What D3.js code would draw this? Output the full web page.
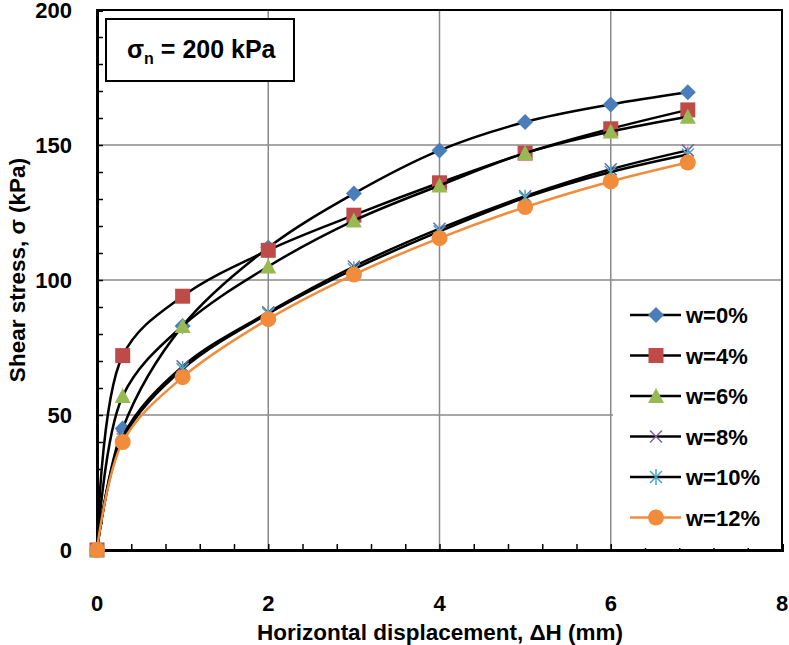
<!DOCTYPE html>
<html>
<head>
<meta charset="utf-8">
<script src="https://cdn.jsdelivr.net/npm/d3@7"></script>
<style>
  body { margin: 0; background: #fff; }
  text { font-family: "Liberation Sans", Arial, sans-serif; font-weight: bold; fill: #000; }
</style>
</head>
<body>
<svg id="chart" width="789" height="645"></svg>
<script>
// horizontal displacement (mm)
var disp = [0, 0.3, 1, 2, 3, 4, 5, 6, 6.9]

// shear stress (kPa) per water content
var w0  = [0, 45, 83, 112, 132, 148, 158.5, 165, 169.5]
var w4  = [0, 72, 94, 111, 124, 136, 147, 156, 163]
var w6  = [0, 57, 83, 105, 122, 135, 147, 155, 160.5]
var w8  = [0, 42, 68, 88, 105, 119, 131, 141, 148]
var w10 = [0, 41, 67, 87.5, 104, 118, 130.5, 140, 146.5]
var w12 = [0, 40, 64, 85.5, 102, 115.5, 127, 136.5, 143.5]

var names = ['w=0%', 'w=4%', 'w=6%', 'w=8%', 'w=10%', 'w=12%']
var xTicks = [0, 2, 4, 6, 8]
var yTicks = [0, 50, 100, 150, 200]

var series = [
  { name: names[0], values: w0,  marker: 'diamond',  color: '#4a7ebb', line: '#000' },
  { name: names[1], values: w4,  marker: 'square',   color: '#be4b48', line: '#000' },
  { name: names[2], values: w6,  marker: 'triangle', color: '#98b954', line: '#000' },
  { name: names[3], values: w8,  marker: 'x',        color: '#7d60a0', line: '#000' },
  { name: names[4], values: w10, marker: 'star',     color: '#46aac5', line: '#000' },
  { name: names[5], values: w12, marker: 'circle',   color: '#f08c3c', line: '#f08c3c' }
]

var plotLeft = 97, plotRight = 782, plotTop = 10, plotBottom = 550

var svg = d3.select('#chart')

var x = d3.scaleLinear().domain([0, 8]).range([plotLeft, plotRight])
var y = d3.scaleLinear().domain([0, 200]).range([plotBottom, plotTop])

// grid
var grid = svg.append('g')
grid.selectAll('.gx')
  .data(xTicks.slice(1, -1))
  .enter().append('line')
  .attr('x1', function(d) { return x(d) })
  .attr('x2', function(d) { return x(d) })
  .attr('y1', plotTop).attr('y2', plotBottom)
  .attr('stroke', '#8a8a8a').attr('stroke-width', 1.5)
grid.selectAll('.gy')
  .data(yTicks.slice(1, -1))
  .enter().append('line')
  .attr('y1', function(d) { return y(d) })
  .attr('y2', function(d) { return y(d) })
  .attr('x1', plotLeft).attr('x2', plotRight)
  .attr('stroke', '#8a8a8a').attr('stroke-width', 1.5)

// frame
svg.append('rect')
  .attr('x', plotLeft).attr('y', plotTop)
  .attr('width', plotRight - plotLeft).attr('height', plotBottom - plotTop)
  .attr('fill', 'none').attr('stroke', '#000').attr('stroke-width', 2)

// axes with inward minor ticks
var xAxis = svg.append('g')
  .attr('transform', 'translate(0,' + plotBottom + ')')
  .call(d3.axisTop(x).tickValues(d3.range(0, 8.01, 0.4)).tickSize(6).tickFormat(''))
xAxis.select('.domain').attr('stroke-width', 3)
xAxis.selectAll('.tick line').attr('stroke-width', 1.5)

var yAxis = svg.append('g')
  .attr('transform', 'translate(' + plotLeft + ',0)')
  .call(d3.axisRight(y).tickValues(d3.range(0, 201, 10)).tickSize(6).tickFormat(''))
yAxis.select('.domain').attr('stroke-width', 3)
yAxis.selectAll('.tick line').attr('stroke-width', 1.5)

// tick labels
svg.append('g').selectAll('text')
  .data(xTicks)
  .enter().append('text')
  .attr('x', function(d) { return x(d) })
  .attr('y', 611)
  .attr('text-anchor', 'middle')
  .style('font-size', '22px')
  .text(function(d) { return d })

svg.append('g').selectAll('text')
  .data(yTicks)
  .enter().append('text')
  .attr('x', 72)
  .attr('y', function(d) { return y(d) + 8 })
  .attr('text-anchor', 'end')
  .style('font-size', '22px')
  .text(function(d) { return d })

// axis titles
svg.append('text')
  .attr('x', 440).attr('y', 640)
  .attr('text-anchor', 'middle')
  .style('font-size', '22.5px')
  .text('Horizontal displacement, \u0394H (mm)')

svg.append('text')
  .attr('transform', 'translate(25,270) rotate(-90)')
  .attr('text-anchor', 'middle')
  .style('font-size', '22.5px')
  .text('Shear stress, \u03c3 (kPa)')

// markers
function drawMarker(g, type, color) {
  if (type === 'diamond') {
    g.append('path').attr('d', 'M0,-8L8,0L0,8L-8,0Z').attr('fill', color)
  } else if (type === 'square') {
    g.append('rect').attr('x', -7.5).attr('y', -7.5).attr('width', 15).attr('height', 15).attr('fill', color)
  } else if (type === 'triangle') {
    g.append('path').attr('d', 'M0,-8L8,7L-8,7Z').attr('fill', color)
  } else if (type === 'circle') {
    g.append('circle').attr('r', 8).attr('fill', color)
  } else if (type === 'x') {
    g.append('path').attr('d', 'M-6,-6L6,6M6,-6L-6,6').attr('stroke', color).attr('stroke-width', 1.5).attr('fill', 'none')
  } else if (type === 'star') {
    g.append('path').attr('d', 'M-6,-6L6,6M6,-6L-6,6M0,-8L0,8').attr('stroke', color).attr('stroke-width', 1.5).attr('fill', 'none')
  }
}

var line = d3.line()
  .x(function(d) { return x(d[0]) })
  .y(function(d) { return y(d[1]) })
  .curve(d3.curveCatmullRom.alpha(0.5))

series.forEach(function(s) {
  var pts = disp.map(function(d, i) { return [d, s.values[i]] })
  var g = svg.append('g')
  g.append('path')
    .attr('d', line(pts))
    .attr('fill', 'none')
    .attr('stroke', s.line)
    .attr('stroke-width', 2.5)
  pts.forEach(function(p) {
    drawMarker(g.append('g').attr('transform', 'translate(' + x(p[0]) + ',' + y(p[1]) + ')'), s.marker, s.color)
  })
})

// annotation box
svg.append('rect')
  .attr('x', 106).attr('y', 19)
  .attr('width', 188).attr('height', 62)
  .attr('fill', '#fff').attr('stroke', '#000').attr('stroke-width', 2)
var ann = svg.append('text').attr('x', 127).attr('y', 58).style('font-size', '25px')
ann.append('tspan').text('\u03c3')
ann.append('tspan').attr('dy', 6).style('font-size', '16px').text('n')
ann.append('tspan').attr('dy', -6).text(' = 200 kPa')

// legend
var legend = svg.append('g')
legend.append('rect')
  .attr('x', 613).attr('y', 284)
  .attr('width', plotRight - 614).attr('height', plotBottom - 286)
  .attr('fill', '#fff')
var items = legend.selectAll('.item')
  .data(series)
  .enter().append('g')
  .attr('transform', function(d, i) { return 'translate(0,' + (315 + i * 40.5) + ')' })
items.append('line')
  .attr('x1', 630).attr('x2', 681)
  .attr('stroke', function(d) { return d.line })
  .attr('stroke-width', 2.5)
items.each(function(d) {
  drawMarker(d3.select(this).append('g').attr('transform', 'translate(656,0)'), d.marker, d.color)
})
items.append('text')
  .attr('x', 686).attr('y', 8)
  .style('font-size', '22px')
  .text(function(d) { return d.name })
</script>
</body>
</html>
